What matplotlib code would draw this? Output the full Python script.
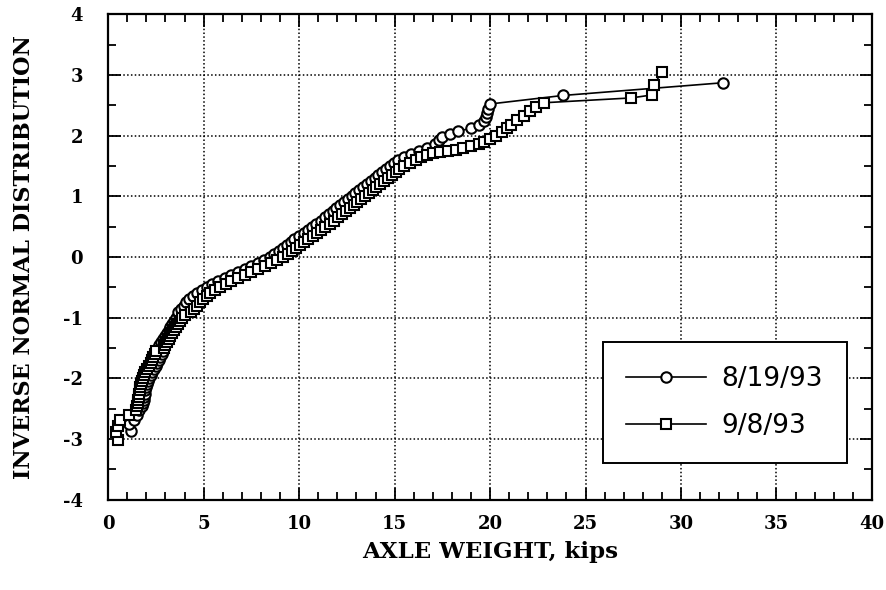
import matplotlib
matplotlib.use("Agg")
import matplotlib.pyplot as plt
from matplotlib.ticker import MultipleLocator

# data
# series 1: 8/19/93 (circles)
circ_y = [-2.86, -2.76, -2.68, -2.60, -2.52,
          -2.45, -2.40, -2.35, -2.30, -2.25, -2.20, -2.15, -2.10, -2.05, -2.00,
          -1.95, -1.90, -1.85, -1.80, -1.75, -1.70, -1.65, -1.60, -1.55, -1.50,
          -1.45, -1.40, -1.35, -1.30, -1.25, -1.20, -1.15, -1.10, -1.05, -1.00,
          -0.95, -0.90, -0.85, -0.80, -0.75, -0.70, -0.65, -0.60, -0.55, -0.50,
          -0.45, -0.40, -0.35, -0.30, -0.25, -0.20, -0.15, -0.10, -0.05, 0.00,
          0.05, 0.10, 0.15, 0.20, 0.25, 0.30, 0.35, 0.40, 0.45, 0.50,
          0.55, 0.60, 0.65, 0.70, 0.75, 0.80, 0.85, 0.90, 0.95, 1.00,
          1.05, 1.10, 1.15, 1.20, 1.25, 1.30, 1.35, 1.40, 1.45, 1.50,
          1.55, 1.60, 1.65, 1.70, 1.75, 1.80, 1.86, 1.92, 1.97, 2.02,
          2.07, 2.12, 2.18, 2.24, 2.31, 2.37, 2.43, 2.52, 2.66, 2.87]
circ_x = [1.20, 1.10, 1.35, 1.50, 1.60,
          1.78, 1.84, 1.86, 1.90, 1.92, 1.95, 1.98, 2.02, 2.08, 2.14,
          2.22, 2.30, 2.40, 2.50, 2.58, 2.65, 2.72, 2.80, 2.88, 2.62,
          2.68, 2.76, 2.86, 2.96, 3.06, 3.16, 3.26, 3.36, 3.46, 3.56,
          3.70, 3.65, 3.80, 3.95, 4.10, 4.25, 4.45, 4.65, 4.90, 5.15,
          5.45, 5.75, 6.10, 6.45, 6.80, 7.15, 7.50, 7.85, 8.15, 8.45,
          8.70, 8.95, 9.15, 9.35, 9.55, 9.75, 10.00, 10.25, 10.45, 10.65,
          10.90, 11.15, 11.35, 11.55, 11.75, 11.95, 12.15, 12.35, 12.55, 12.75,
          12.95, 13.15, 13.35, 13.55, 13.75, 13.95, 14.15, 14.35, 14.55, 14.75,
          14.95, 15.20, 15.50, 15.85, 16.30, 16.70, 17.10, 17.30, 17.50, 17.90,
          18.30, 19.00, 19.40, 19.70, 19.80, 19.85, 19.90, 20.00, 23.80, 32.20]

# series 2: 9/8/93 (squares)
sq_y = [-3.02, -2.88, -2.78, -2.68, -2.60, -2.52,
        -2.45, -2.40, -2.35, -2.30, -2.25, -2.20, -2.15, -2.10, -2.05, -2.00,
        -1.95, -1.90, -1.85, -1.80, -1.75, -1.70, -1.65, -1.60, -1.55, -1.50,
        -1.45, -1.40, -1.35, -1.30, -1.25, -1.20, -1.15, -1.10, -1.05, -1.00,
        -0.95, -0.90, -0.85, -0.80, -0.75, -0.70, -0.65, -0.60, -0.55, -0.50,
        -0.45, -0.40, -0.35, -0.30, -0.25, -0.20, -0.15, -0.10, -0.05, 0.00,
        0.05, 0.10, 0.15, 0.20, 0.25, 0.30, 0.35, 0.40, 0.45, 0.50,
        0.55, 0.60, 0.65, 0.70, 0.75, 0.80, 0.85, 0.90, 0.95, 1.00,
        1.05, 1.10, 1.15, 1.20, 1.25, 1.30, 1.35, 1.40, 1.45, 1.50,
        1.55, 1.60, 1.65, 1.68, 1.71, 1.73, 1.75, 1.77, 1.79, 1.82,
        1.86, 1.90, 1.95, 2.00, 2.06, 2.12, 2.18, 2.25, 2.33, 2.40,
        2.47, 2.54, 2.62, 2.67, 2.84, 3.05]
sq_x = [0.50, 0.40, 0.50, 0.60, 1.10, 1.45,
        1.52, 1.56, 1.58, 1.60, 1.62, 1.65, 1.67, 1.70, 1.75, 1.80,
        1.86, 1.94, 2.04, 2.14, 2.22, 2.29, 2.36, 2.44, 2.52, 2.90,
        2.98, 3.06, 3.16, 3.26, 3.36, 3.46, 3.56, 3.66, 3.76, 3.86,
        4.02, 4.35, 4.50, 4.65, 4.80, 4.95, 5.15, 5.35, 5.60, 5.85,
        6.15, 6.45, 6.80, 7.15, 7.50, 7.85, 8.20, 8.55, 8.85, 9.15,
        9.40, 9.65, 9.85, 10.05, 10.25, 10.45, 10.70, 10.95, 11.15, 11.35,
        11.60, 11.85, 12.05, 12.25, 12.45, 12.65, 12.85, 13.05, 13.25, 13.45,
        13.65, 13.85, 14.05, 14.25, 14.45, 14.65, 14.85, 15.05, 15.25, 15.50,
        15.80, 16.10, 16.40, 16.70, 17.00, 17.40, 17.80, 18.20, 18.60, 19.00,
        19.40, 19.70, 20.00, 20.30, 20.60, 20.90, 21.10, 21.40, 21.80, 22.10,
        22.40, 22.80, 27.40, 28.50, 28.60, 29.00]

labels = ["8/19/93", "9/8/93"]

plt.rcParams["axes.unicode_minus"] = False

fig = plt.figure(figsize=(8.87, 5.90), dpi=100, facecolor="white")
ax = fig.add_axes([0.122, 0.153, 0.861, 0.823])

ax.plot(circ_x, circ_y, color="black", lw=1.2, marker="o", ms=7.5,
        mfc="white", mec="black", mew=1.5, label=labels[0])
ax.plot(sq_x, sq_y, color="black", lw=1.2, marker="s", ms=7.5,
        mfc="white", mec="black", mew=1.5, label=labels[1])

ax.set_xlim(0, 40)
ax.set_ylim(-4, 4)
ax.xaxis.set_major_locator(MultipleLocator(5))
ax.xaxis.set_minor_locator(MultipleLocator(1))
ax.yaxis.set_major_locator(MultipleLocator(1))
ax.yaxis.set_minor_locator(MultipleLocator(0.5))

ax.grid(True, which="major", color="black", linestyle=(0, (1, 1.5)), lw=1.1)
ax.tick_params(which="both", direction="in", top=True, right=True,
               width=1.3, colors="black")
ax.tick_params(which="major", length=9)
ax.tick_params(which="minor", length=6)
ax.tick_params(axis="x", which="major", pad=11)
ax.tick_params(axis="y", which="major", pad=18)
for spine in ax.spines.values():
    spine.set_linewidth(1.6)

for lab in ax.get_xticklabels() + ax.get_yticklabels():
    lab.set_fontfamily("DejaVu Serif")
    lab.set_fontweight("bold")
    lab.set_fontsize(13)

ax.set_xlabel("AXLE WEIGHT, kips", fontfamily="DejaVu Serif",
              fontweight="heavy", fontsize=16.5, labelpad=6)
ax.set_ylabel("INVERSE NORMAL DISTRIBUTION", fontfamily="DejaVu Serif",
              fontweight="heavy", fontsize=16, labelpad=20)

leg = ax.legend(loc="lower right", bbox_to_anchor=(0.967, 0.076),
                borderaxespad=0,
                prop={"family": "DejaVu Sans", "size": 19},
                handlelength=3.0, handletextpad=0.6, fancybox=False,
                framealpha=1, edgecolor="black", borderpad=0.9,
                labelspacing=0.8)
leg.get_frame().set_linewidth(1.4)

fig.savefig("out.png", dpi=100, facecolor="white")
